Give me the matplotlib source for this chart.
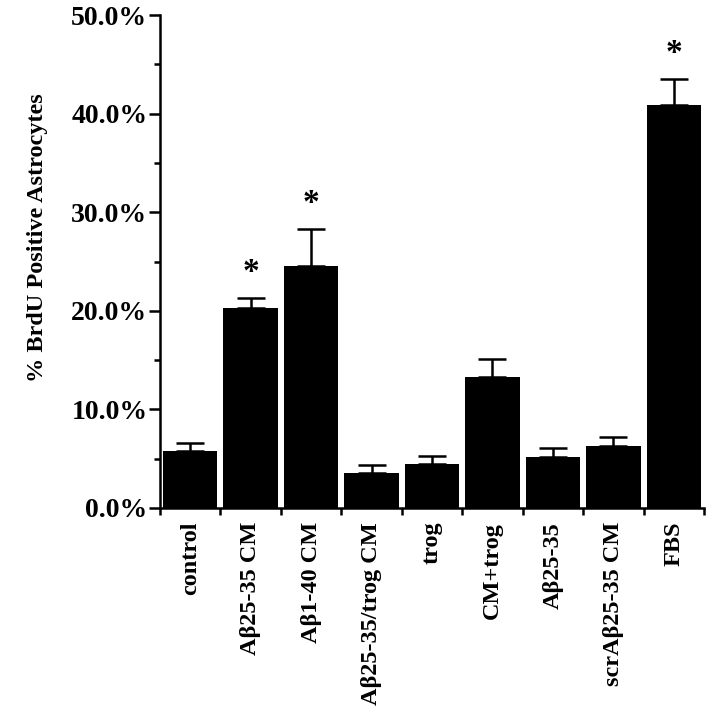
import matplotlib
matplotlib.use("Agg")
import matplotlib.pyplot as plt
from matplotlib.ticker import MultipleLocator, FuncFormatter

categories = ["control", "Aβ25-35 CM", "Aβ1-40 CM", "Aβ25-35/trog CM", "trog",
              "CM+trog", "Aβ25-35", "scrAβ25-35 CM", "FBS"]
values = [5.8, 20.3, 24.5, 3.5, 4.5, 13.3, 5.2, 6.3, 40.9]
errors = [0.8, 1.0, 3.8, 0.9, 0.8, 1.8, 0.9, 0.9, 2.6]
significant = [False, True, True, False, False, False, False, False, True]

plt.rcParams['font.family'] = ['Liberation Serif', 'DejaVu Serif']
plt.rcParams['font.weight'] = 'bold'

fig = plt.figure(figsize=(7.14, 7.19), dpi=100)
ax = fig.add_axes([0.224, 0.2935, 0.762, 0.6855])

x = list(range(len(categories)))
ax.bar(x, values, width=0.9, color='black', zorder=2)
ax.errorbar(x, values, yerr=[[0] * len(errors), errors], fmt='none', ecolor='black',
            elinewidth=1.8, capsize=10, capthick=1.8, zorder=3)

for xi, v, e, s in zip(x, values, errors, significant):
    if s:
        ax.text(xi, v + e + 2.6, "*", ha='center', va='center', fontsize=24,
                fontweight='bold')

ax.set_xlim(-0.5, len(categories) - 0.5)
ax.set_ylim(0, 50)
ax.yaxis.set_major_locator(MultipleLocator(10))
ax.yaxis.set_minor_locator(MultipleLocator(5))
ax.yaxis.set_major_formatter(FuncFormatter(lambda v, p: f"{v:.1f}%"))
ax.set_xticks([i - 0.5 for i in range(len(categories) + 1)], minor=False)
ax.set_xticklabels([])
ax.set_xticks(x, minor=True)
ax.set_xticklabels(categories, minor=True, rotation=90, fontsize=17.5,
                   fontweight='bold', va='top', ha='center')
ax.tick_params(axis='x', which='minor', length=0, pad=10)
ax.tick_params(axis='x', which='major', direction='out', length=5, width=1.8)
ax.tick_params(axis='y', which='major', direction='out', length=8, width=1.8,
               labelsize=20, pad=1)
ax.tick_params(axis='y', which='minor', direction='out', length=4, width=1.8)
for lab in ax.get_yticklabels():
    lab.set_fontweight('bold')

for side in ['top', 'right']:
    ax.spines[side].set_visible(False)
for side in ['left', 'bottom']:
    ax.spines[side].set_linewidth(1.8)

ax.set_ylabel("% BrdU Positive Astrocytes", fontsize=17.5, fontweight='bold')
ax.yaxis.set_label_coords(-0.205, 0.548)

fig.savefig("out.png", dpi=100, facecolor='white')
